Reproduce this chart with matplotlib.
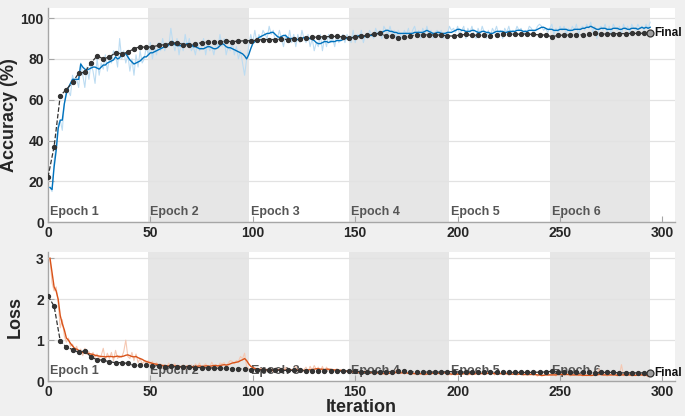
import numpy as np
import matplotlib
matplotlib.use("Agg")
import matplotlib.pyplot as plt
from matplotlib.transforms import offset_copy

plt.rcParams['font.family'] = ['Liberation Sans', 'DejaVu Sans']

# ---------------- data ----------------
train_acc_smooth = [
    17, 16, 27, 35, 46, 50, 50, 58, 63, 66,
    68, 70, 70, 70, 70, 77.5, 76, 75, 74.5, 75,
    75.5, 76, 76, 75.5, 75, 76, 77, 77, 78, 78.5,
    79, 79.5, 81, 80, 80.5, 82.5, 82.5, 82.5, 81, 79.5,
    78.5, 77.5, 78, 78.5, 79, 80, 81, 81, 82, 83,
    83, 83.5, 84, 84.5, 85, 85.5, 86, 86, 87, 88.5,
    88.5, 87, 86.5, 86.5, 86.5, 86, 87, 87.5, 87.5, 87,
    86, 86, 85.5, 85, 85, 85, 85.5, 86, 86, 85.5,
    85, 85, 85.5, 86.5, 87.5, 87, 86, 85.5, 85.5, 85,
    84.5, 84, 83.5, 83, 82.5, 81.5, 80, 82, 85, 87.5,
    88.5, 89.5, 90.5, 91, 91.5, 92, 92.5, 92.5, 93, 93,
    92, 91, 90.5, 91, 91.5, 91.5, 90.5, 90, 90, 90,
    89.5, 89.5, 89.5, 90, 90.5, 90.5, 90, 90, 89.5, 89,
    88, 87.5, 87.5, 88, 88.5, 88.5, 88, 88.5, 88.5, 88.5,
    89, 89, 89, 89.5, 90, 90, 90, 90.5, 90.5, 91,
    91, 91.5, 91.5, 91, 91, 91, 91.5, 91.5, 92, 92,
    92.5, 92.5, 93, 93.5, 94, 94, 93.5, 93.5, 93, 93,
    92.5, 92.5, 92.5, 92.5, 92.5, 92.5, 92.5, 92.5, 93, 93,
    93, 93, 93, 93.5, 94, 93.5, 93, 92.5, 92.5, 93,
    93, 92.5, 92.5, 92.5, 93, 93, 93, 93.5, 94, 94.5,
    94.5, 94, 94, 93.5, 93.5, 93.5, 94, 94, 93.5, 93,
    93, 93.5, 93.5, 93, 93, 92.5, 92.5, 93, 93.5, 93.5,
    93.5, 93.5, 93, 93, 93.5, 93.5, 93.5, 93.5, 94, 94,
    94, 93.5, 93.5, 93.5, 94, 94, 94, 94, 94.5, 95,
    95.5, 95.5, 95, 94.5, 94.5, 94.5, 94, 94, 94, 94.5,
    94.5, 94.5, 94.5, 94, 94, 94, 94.5, 94.5, 94.5, 94.5,
    95, 95, 95.5, 95.5, 96, 95.5, 95, 94.5, 94.5, 95,
    95, 95, 94.5, 94.5, 94.5, 95, 95, 95, 94.5, 94.5,
    95, 95, 94.5, 94.5, 95, 95, 95, 94.5, 95, 95.5,
    95, 95.5, 95, 95.5,
]

train_acc_raw = [
    17, 15, 30, 38, 48, 50, 45, 58, 65, 64,
    62, 72, 68, 70, 66, 78, 72, 66, 76, 70,
    78, 74, 68, 80, 72, 78, 75, 82, 74, 80,
    78, 84, 82, 76, 90, 80, 84, 78, 82, 74,
    80, 72, 82, 76, 84, 78, 80, 86, 82, 88,
    80, 86, 82, 88, 84, 90, 84, 88, 86, 95,
    88, 84, 90, 82, 88, 84, 92, 86, 90, 84,
    86, 82, 88, 84, 86, 90, 82, 88, 84, 86,
    82, 88, 86, 92, 86, 90, 82, 86, 84, 88,
    82, 86, 80, 84, 78, 72, 80, 86, 92, 88,
    94, 88, 92, 90, 94, 92, 90, 96, 92, 94,
    88, 90, 94, 90, 86, 92, 88, 94, 88, 92,
    86, 92, 88, 94, 90, 88, 92, 86, 90, 84,
    88, 86, 92, 84, 90, 86, 92, 88, 90, 86,
    92, 88, 90, 92, 88, 92, 90, 88, 94, 88,
    92, 90, 94, 88, 92, 90, 94, 92, 90, 95,
    92, 94, 90, 96, 94, 92, 96, 92, 94, 90,
    94, 92, 90, 94, 92, 95, 90, 94, 96, 92,
    94, 90, 95, 92, 96, 92, 94, 90, 93, 94,
    92, 94, 90, 93, 92, 96, 94, 95, 93, 96,
    92, 94, 96, 90, 95, 93, 96, 92, 90, 95,
    92, 96, 93, 90, 94, 91, 95, 93, 96, 92,
    94, 90, 95, 93, 96, 92, 94, 93, 96, 94,
    95, 92, 94, 93, 96, 95, 93, 94, 96, 97,
    96, 94, 95, 93, 95, 97, 92, 95, 93, 96,
    94, 96, 92, 95, 93, 96, 94, 97, 92, 95,
    96, 94, 97, 95, 98, 93, 96, 90, 95, 96,
    94, 97, 93, 96, 92, 97, 95, 94, 96, 92,
    97, 94, 96, 93, 97, 95, 94, 97, 95, 96,
    94, 97, 95, 98,
]

val_acc = [
    22, 37, 62, 65, 68.5, 73, 73.5, 78, 81.5, 80,
    81, 83, 82.5, 83.3, 85, 86, 85.6, 86, 86.6, 87,
    87.6, 88, 87, 86.8, 87.3, 88, 88.2, 88.2, 88.4, 88.7,
    88.5, 88.7, 88.9, 88.9, 89.2, 89.5, 89.5, 89.5, 89.7, 89.5,
    90.0, 90.0, 90.3, 90.5, 90.8, 90.8, 91.0, 91.0, 90.8, 90.3,
    90.5, 91.2, 91.5, 92.2, 92.5, 91.3, 91.2, 90.3, 90.5, 91.2,
    91.8, 91.8, 91.8, 91.7, 91.7, 91.3, 91.2, 91.7, 92.0, 91.5,
    91.7, 91.5, 91.3, 91.8, 92.0, 92.2, 92.0, 92.2, 92.2, 92.0,
    91.8, 91.7, 90.9, 91.5, 91.7, 91.7, 91.8, 91.8, 92.0, 92.5,
    92.2, 92.2, 92.3, 92.4, 92.4, 92.5, 92.5, 92.6, 92.6,
]

train_loss_smooth = [
    3.0, 2.65, 2.3, 2.2, 2.0, 1.6, 1.4, 1.25, 1.05, 1.0,
    0.92, 0.86, 0.8, 0.78, 0.75, 0.72, 0.7, 0.69, 0.68, 0.67,
    0.66, 0.65, 0.63, 0.62, 0.61, 0.6, 0.6, 0.59, 0.6, 0.6,
    0.6, 0.59, 0.6, 0.61, 0.59, 0.6, 0.61, 0.63, 0.64, 0.62,
    0.6, 0.59, 0.6, 0.57, 0.55, 0.53, 0.5, 0.48, 0.46, 0.45,
    0.43, 0.42, 0.41, 0.4, 0.39, 0.38, 0.38, 0.37, 0.37, 0.36,
    0.36, 0.37, 0.36, 0.36, 0.35, 0.35, 0.35, 0.36, 0.35, 0.35,
    0.35, 0.36, 0.36, 0.37, 0.36, 0.36, 0.37, 0.37, 0.36, 0.37,
    0.38, 0.38, 0.37, 0.38, 0.39, 0.4, 0.39, 0.4, 0.42, 0.44,
    0.45, 0.46, 0.47, 0.5, 0.52, 0.55, 0.5, 0.42, 0.36, 0.33,
    0.31, 0.3, 0.29, 0.28, 0.28, 0.27, 0.28, 0.27, 0.27, 0.26,
    0.27, 0.28, 0.27, 0.26, 0.26, 0.27, 0.28, 0.28, 0.27, 0.27,
    0.28, 0.27, 0.27, 0.26, 0.26, 0.27, 0.27, 0.28, 0.28, 0.29,
    0.3, 0.3, 0.29, 0.29, 0.28, 0.29, 0.29, 0.28, 0.28, 0.27,
    0.27, 0.26, 0.26, 0.25, 0.25, 0.24, 0.24, 0.23, 0.23, 0.23,
    0.22, 0.22, 0.21, 0.21, 0.22, 0.22, 0.21, 0.21, 0.2, 0.2,
    0.2, 0.19, 0.19, 0.18, 0.18, 0.19, 0.19, 0.2, 0.2, 0.21,
    0.21, 0.2, 0.2, 0.2, 0.2, 0.19, 0.19, 0.19, 0.18, 0.18,
    0.18, 0.18, 0.18, 0.17, 0.17, 0.18, 0.18, 0.19, 0.19, 0.19,
    0.19, 0.2, 0.2, 0.2, 0.19, 0.18, 0.17, 0.17, 0.17, 0.17,
    0.17, 0.17, 0.18, 0.18, 0.18, 0.18, 0.17, 0.17, 0.18, 0.19,
    0.19, 0.18, 0.18, 0.18, 0.19, 0.19, 0.19, 0.18, 0.18, 0.18,
    0.18, 0.18, 0.18, 0.18, 0.17, 0.17, 0.17, 0.17, 0.17, 0.17,
    0.17, 0.16, 0.16, 0.16, 0.16, 0.16, 0.16, 0.16, 0.15, 0.15,
    0.14, 0.14, 0.15, 0.15, 0.15, 0.15, 0.15, 0.15, 0.16, 0.16,
    0.16, 0.16, 0.16, 0.16, 0.15, 0.15, 0.15, 0.15, 0.15, 0.15,
    0.14, 0.14, 0.14, 0.14, 0.14, 0.14, 0.15, 0.15, 0.16, 0.16,
    0.15, 0.15, 0.15, 0.15, 0.15, 0.15, 0.15, 0.14, 0.14, 0.15,
    0.15, 0.15, 0.15, 0.15, 0.14, 0.14, 0.14, 0.15, 0.15, 0.15,
    0.14, 0.14, 0.13, 0.13,
]

train_loss_raw = [
    3.0, 2.4, 2.2, 2.3, 1.9, 1.3, 1.5, 1.1, 0.95, 1.05,
    0.85, 0.9, 0.75, 0.85, 0.7, 0.78, 0.62, 0.8, 0.65, 0.72,
    0.6, 0.7, 0.58, 0.66, 0.55, 0.62, 0.8, 0.52, 0.68, 0.55,
    0.7, 0.5, 0.75, 0.55, 0.62, 0.58, 0.72, 1.0, 0.6, 0.55,
    0.7, 0.5, 0.66, 0.45, 0.55, 0.42, 0.48, 0.44, 0.5, 0.38,
    0.48, 0.36, 0.45, 0.38, 0.42, 0.32, 0.4, 0.35, 0.44, 0.3,
    0.4, 0.42, 0.3, 0.38, 0.33, 0.4, 0.28, 0.38, 0.34, 0.4,
    0.3, 0.42, 0.36, 0.44, 0.3, 0.38, 0.42, 0.34, 0.36, 0.46,
    0.34, 0.4, 0.35, 0.44, 0.42, 0.45, 0.36, 0.44, 0.5, 0.48,
    0.42, 0.5, 0.48, 0.6, 0.55, 0.68, 0.35, 0.3, 0.28, 0.3,
    0.28, 0.3, 0.26, 0.32, 0.25, 0.3, 0.24, 0.28, 0.3, 0.22,
    0.32, 0.26, 0.3, 0.22, 0.28, 0.34, 0.24, 0.3, 0.26, 0.28,
    0.36, 0.24, 0.3, 0.22, 0.28, 0.34, 0.22, 0.36, 0.26, 0.38,
    0.28, 0.34, 0.24, 0.36, 0.22, 0.34, 0.26, 0.3, 0.24, 0.26,
    0.3, 0.22, 0.28, 0.2, 0.26, 0.22, 0.25, 0.2, 0.26, 0.2,
    0.24, 0.18, 0.24, 0.2, 0.26, 0.18, 0.22, 0.2, 0.16, 0.24,
    0.18, 0.2, 0.16, 0.22, 0.14, 0.24, 0.18, 0.26, 0.18, 0.28,
    0.2, 0.18, 0.24, 0.16, 0.22, 0.18, 0.2, 0.16, 0.2, 0.15,
    0.2, 0.16, 0.22, 0.14, 0.2, 0.22, 0.16, 0.24, 0.18, 0.22,
    0.16, 0.26, 0.18, 0.22, 0.14, 0.16, 0.15, 0.2, 0.14, 0.18,
    0.16, 0.2, 0.18, 0.22, 0.14, 0.2, 0.15, 0.18, 0.24, 0.2,
    0.16, 0.2, 0.18, 0.22, 0.2, 0.18, 0.22, 0.15, 0.2, 0.16,
    0.2, 0.16, 0.18, 0.2, 0.14, 0.18, 0.16, 0.2, 0.14, 0.18,
    0.16, 0.14, 0.18, 0.14, 0.16, 0.18, 0.14, 0.16, 0.12, 0.16,
    0.12, 0.14, 0.18, 0.14, 0.16, 0.14, 0.18, 0.12, 0.2, 0.15,
    0.18, 0.14, 0.16, 0.18, 0.12, 0.16, 0.14, 0.18, 0.13, 0.16,
    0.12, 0.15, 0.13, 0.16, 0.12, 0.14, 0.18, 0.14, 0.3, 0.15,
    0.14, 0.18, 0.12, 0.16, 0.15, 0.14, 0.18, 0.12, 0.15, 0.4,
    0.13, 0.16, 0.15, 0.17, 0.12, 0.15, 0.13, 0.18, 0.14, 0.16,
    0.12, 0.16, 0.1, 0.14,
]

val_loss = [
    2.08, 1.83, 0.98, 0.83, 0.77, 0.70, 0.74, 0.59, 0.52, 0.51,
    0.47, 0.45, 0.45, 0.43, 0.38, 0.38, 0.38, 0.37, 0.36, 0.35,
    0.36, 0.34, 0.35, 0.34, 0.33, 0.33, 0.32, 0.32, 0.31, 0.31,
    0.30, 0.30, 0.29, 0.28, 0.28, 0.27, 0.27, 0.27, 0.26, 0.26,
    0.26, 0.26, 0.25, 0.25, 0.25, 0.25, 0.24, 0.24, 0.24, 0.25,
    0.24, 0.23, 0.23, 0.22, 0.22, 0.23, 0.23, 0.25, 0.24, 0.23,
    0.22, 0.22, 0.22, 0.22, 0.22, 0.23, 0.23, 0.22, 0.22, 0.22,
    0.22, 0.22, 0.23, 0.22, 0.22, 0.21, 0.21, 0.21, 0.21, 0.21,
    0.22, 0.22, 0.24, 0.22, 0.22, 0.22, 0.22, 0.21, 0.21, 0.20,
    0.21, 0.21, 0.21, 0.20, 0.20, 0.20, 0.20, 0.20, 0.20,
]

iters_per_epoch = 49
n_epochs = 6
val_every = 3
epoch_labels = ["Epoch 1", "Epoch 2", "Epoch 3", "Epoch 4", "Epoch 5", "Epoch 6"]

train_iter = np.arange(1, len(train_acc_smooth) + 1)
val_iter = np.arange(0, val_every * len(val_acc), val_every)

# ---------------- style ----------------
FIG_BG = "#f0f0f0"
BAND = "#e6e6e6"
GRID = "#e2e2e2"
SPINE = "#a6a6a6"
TICK_TXT = "#262626"
BLUE = "#0072bd"
BLUE_L = "#bcdcf2"
ORANGE = "#d95319"
ORANGE_L = "#f5c8b3"
VAL = "#333333"
EPOCH_TXT = "#555555"

fig = plt.figure(figsize=(6.85, 4.16), dpi=100, facecolor=FIG_BG)
ax1 = fig.add_axes([0.070, 0.466, 0.915, 0.515])
ax2 = fig.add_axes([0.070, 0.084, 0.915, 0.310])


def style_axes(ax, ylim, yticks):
    ax.set_facecolor("white")
    ax.set_xlim(0, 306)
    ax.set_ylim(*ylim)
    ax.set_xticks([0, 50, 100, 150, 200, 250, 300])
    ax.set_yticks(yticks)
    for s in ["top", "right"]:
        ax.spines[s].set_visible(False)
    for s in ["left", "bottom"]:
        ax.spines[s].set_color(SPINE)
        ax.spines[s].set_linewidth(1.0)
    ax.tick_params(direction="in", length=4, color=SPINE, labelsize=10,
                   labelcolor=TICK_TXT, pad=3)
    for lab in ax.get_xticklabels() + ax.get_yticklabels():
        lab.set_fontweight("bold")
    ax.yaxis.grid(True, color=GRID, linewidth=0.9)
    ax.set_axisbelow(False)
    for e in range(n_epochs):
        x0 = e * iters_per_epoch
        x1 = (e + 1) * iters_per_epoch
        if e % 2 == 1:
            ax.axvspan(x0, x1, color=BAND, lw=0, zorder=0)
        tr = offset_copy(ax.get_xaxis_transform(), fig=fig, x=1.5, y=3, units="points")
        ax.text(x0, 0, epoch_labels[e], transform=tr, ha="left", va="bottom",
                fontsize=9, color=EPOCH_TXT, fontweight="bold", zorder=2)


style_axes(ax1, (0, 105), [0, 20, 40, 60, 80, 100])
style_axes(ax2, (0, 3.15), [0, 1, 2, 3])
for ln in ax1.get_ygridlines() + ax2.get_ygridlines():
    ln.set_zorder(0.5)

MS = 2.8

# accuracy
ax1.plot(train_iter, train_acc_raw, color=BLUE_L, lw=0.8, zorder=3)
ax1.plot(train_iter, train_acc_smooth, color=BLUE, lw=1.0, zorder=4)
ax1.plot(val_iter, val_acc, color=VAL, ls="--", lw=0.9, marker="o",
         markersize=MS, markerfacecolor=VAL, markeredgecolor=VAL, zorder=5)
ax1.plot(val_iter[-1], val_acc[-1], marker="o", markersize=5,
         markerfacecolor="#a0a0a0", markeredgecolor=VAL, mew=0.9, zorder=6)
ax1.annotate("Final", (val_iter[-1], val_acc[-1]), xytext=(3, 0),
             textcoords="offset points", ha="left", va="center",
             fontsize=8.5, fontweight="bold", color="#111111", zorder=7)
ax1.set_ylabel("Accuracy (%)", fontsize=13, fontweight="bold", color=TICK_TXT, labelpad=2)

# loss
ax2.plot(train_iter, train_loss_raw, color=ORANGE_L, lw=0.8, zorder=3)
ax2.plot(train_iter, train_loss_smooth, color=ORANGE, lw=1.0, zorder=4)
ax2.plot(val_iter, val_loss, color=VAL, ls="--", lw=0.9, marker="o",
         markersize=MS, markerfacecolor=VAL, markeredgecolor=VAL, zorder=5)
ax2.plot(val_iter[-1], val_loss[-1], marker="o", markersize=5,
         markerfacecolor="#a0a0a0", markeredgecolor=VAL, mew=0.9, zorder=6)
ax2.annotate("Final", (val_iter[-1], val_loss[-1]), xytext=(3, 0),
             textcoords="offset points", ha="left", va="center",
             fontsize=8.5, fontweight="bold", color="#111111", zorder=7)
ax2.set_ylabel("Loss", fontsize=13, fontweight="bold", color=TICK_TXT, labelpad=9)
ax2.set_xlabel("Iteration", fontsize=13, fontweight="bold", color=TICK_TXT, labelpad=0)

fig.savefig("out.png", dpi=100, facecolor=FIG_BG)
